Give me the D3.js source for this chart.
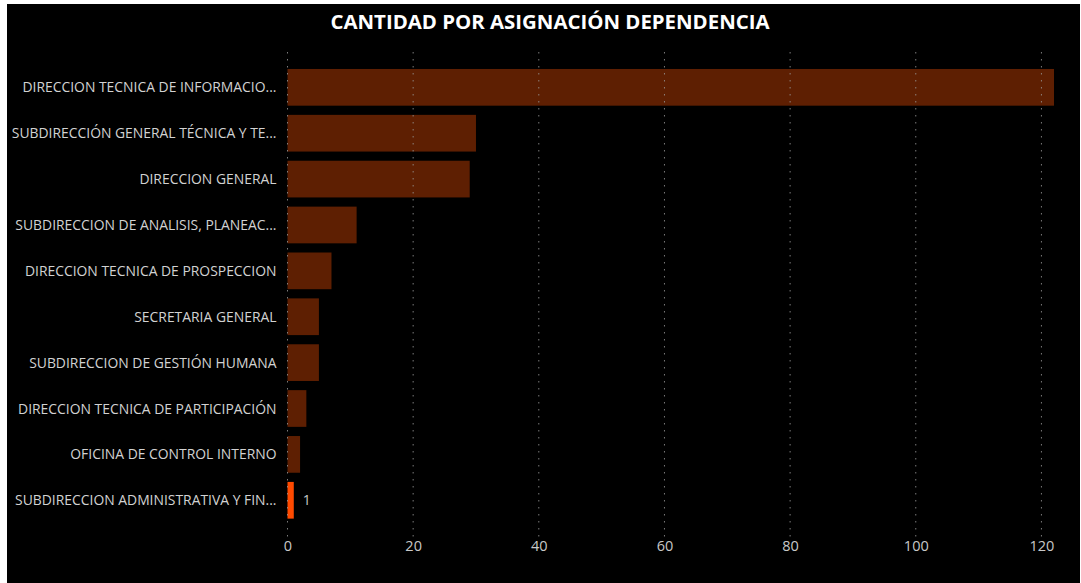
<!DOCTYPE html>
<html>
<head>
<meta charset="utf-8">
<script src="https://cdn.jsdelivr.net/npm/d3@7"></script>
<style>
  html, body { margin: 0; padding: 0; background: #ffffff; }
  svg { display: block; }
</style>
</head>
<body>
<svg id="chart" width="1081" height="583"></svg>
<script>
// Cantidad de registros por dependencia asignada
const categories = [
  "DIRECCION TECNICA DE INFORMACIO...",
  "SUBDIRECCIÓN GENERAL TÉCNICA Y TE...",
  "DIRECCION GENERAL",
  "SUBDIRECCION DE ANALISIS, PLANEAC...",
  "DIRECCION TECNICA DE PROSPECCION",
  "SECRETARIA GENERAL",
  "SUBDIRECCION DE GESTIÓN HUMANA",
  "DIRECCION TECNICA DE PARTICIPACIÓN",
  "OFICINA DE CONTROL INTERNO",
  "SUBDIRECCION ADMINISTRATIVA Y FIN..."
];
const values = [122, 30, 29, 11, 7, 5, 5, 3, 2, 1];
const highlighted = ["SUBDIRECCION ADMINISTRATIVA Y FIN..."];
const xTicks = [0, 20, 40, 60, 80, 100, 120];
const title = "CANTIDAD POR ASIGNACIÓN DEPENDENCIA";

const svg = d3.select("#chart");
const font = "'Open Sans', 'Noto Sans', sans-serif";

// dark panel
svg.append("rect")
  .attr("x", 7).attr("y", 4)
  .attr("width", 1073).attr("height", 579)
  .attr("fill", "#000000");

const x = d3.scaleLinear().domain([0, 122]).range([287.5, 1054]);
const y = d3.scaleBand().domain(categories).range([59.8, 527.8]).padding(0.2);

// title
svg.append("text")
  .attr("x", 550).attr("y", 28.5)
  .attr("text-anchor", "middle")
  .attr("fill", "#ffffff")
  .attr("font-family", font)
  .attr("font-weight", 700)
  .attr("font-size", 20.4)
  .text(title);

// bars
svg.append("g").selectAll("rect")
  .data(categories)
  .join("rect")
  .attr("x", x(0))
  .attr("y", d => y(d))
  .attr("width", (d, i) => x(values[i]) - x(0))
  .attr("height", y.bandwidth())
  .attr("fill", d => highlighted.includes(d) ? "#ff4a00" : "#5e1f02");

// dotted vertical gridlines (drawn above the bars)
svg.append("g").selectAll("line")
  .data(xTicks)
  .join("line")
  .attr("x1", d => x(d)).attr("x2", d => x(d))
  .attr("y1", 52).attr("y2", 538)
  .attr("stroke", "#9a9a9a")
  .attr("stroke-opacity", 0.8)
  .attr("stroke-width", 1)
  .attr("stroke-dasharray", "1.5,5.5");

// x axis labels
const xAxis = d3.axisBottom(x).tickValues(xTicks).tickSize(0).tickPadding(0);
const gx = svg.append("g").attr("transform", "translate(0,541)").call(xAxis);
gx.select(".domain").remove();
gx.selectAll("text")
  .attr("fill", "#c8c8c8")
  .attr("font-family", font)
  .attr("font-size", 14.5)
  .attr("dy", "0.71em");

// y axis labels
const yAxis = d3.axisLeft(y).tickSize(0).tickPadding(11);
const gy = svg.append("g").attr("transform", `translate(${x(0)},0)`).call(yAxis);
gy.select(".domain").remove();
gy.selectAll("text")
  .attr("fill", "#d2d2d2")
  .attr("font-family", font)
  .attr("font-size", 13.9)
  .attr("dy", "0.36em");

// value label for the highlighted bar
svg.append("g").selectAll("text")
  .data(categories.filter(d => highlighted.includes(d)))
  .join("text")
  .attr("x", d => x(values[categories.indexOf(d)]) + 9)
  .attr("y", d => y(d) + y.bandwidth() / 2)
  .attr("dy", "0.36em")
  .attr("fill", "#c8c8c8")
  .attr("font-family", font)
  .attr("font-size", 14)
  .text(d => values[categories.indexOf(d)]);
</script>
</body>
</html>
